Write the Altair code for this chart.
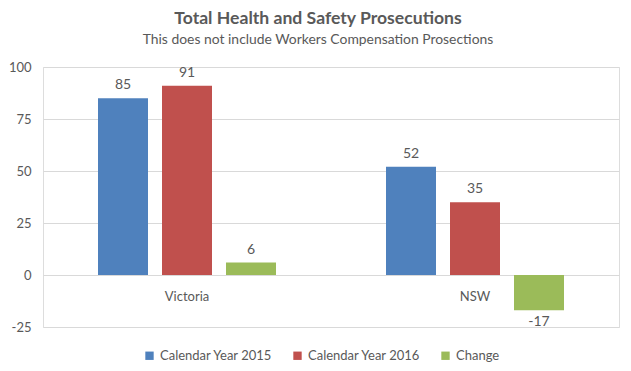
import altair as alt
import pandas as pd

categories = ["Victoria", "NSW"]
series = ["Calendar Year 2015", "Calendar Year 2016", "Change"]
y2015 = [85, 52]
y2016 = [91, 35]
change = [6, -17]
colors = ["#4F81BD", "#C0504D", "#9BBB59"]

rows = []
for i, c in enumerate(categories):
    for s, v in zip(series, [y2015[i], y2016[i], change[i]]):
        rows.append({"Region": c, "Series": s, "Value": v, "Label": str(v)})
df = pd.DataFrame(rows)
cat_df = pd.DataFrame({"Region": categories})

FONT = "Lato"
GREY = "#595959"

x_enc = alt.X("Region:N", sort=categories, axis=None,
              scale=alt.Scale(paddingInner=0, paddingOuter=0))
xoff = alt.XOffset("Series:N", sort=series,
                   scale=alt.Scale(paddingInner=0.21875, paddingOuter=0.859375))
y_scale = alt.Scale(domain=[-25, 100], nice=False, zero=False)

bars = alt.Chart(df).mark_bar().encode(
    x=x_enc,
    xOffset=xoff,
    y=alt.Y("Value:Q", scale=y_scale,
            axis=alt.Axis(values=[-25, 0, 25, 50, 75, 100], title=None,
                          domain=False, ticks=False, labelPadding=12,
                          labelExpr="toString(datum.value)",
                          labelFont=FONT, labelFontSize=13, labelColor=GREY,
                          gridColor="#D9D9D9", gridWidth=1)),
    y2=alt.datum(0),
    color=alt.Color("Series:N", sort=series,
                    scale=alt.Scale(domain=series, range=colors),
                    legend=alt.Legend(title=None, orient="none", direction="horizontal",
                                      legendX=100, legendY=282,
                                      symbolType="square", symbolSize=70,
                                      symbolStrokeWidth=0, labelOffset=4,
                                      labelFont=FONT, labelFontSize=13, labelColor=GREY,
                                      columnPadding=18)),
)

pos_labels = alt.Chart(df).transform_filter("datum.Value >= 0").mark_text(
    baseline="bottom", dy=-6, font=FONT, fontSize=14, color=GREY
).encode(x=x_enc, xOffset=xoff, y=alt.Y("Value:Q", scale=y_scale), text="Label:N")

neg_labels = alt.Chart(df).transform_filter("datum.Value < 0").mark_text(
    baseline="top", dy=5, font=FONT, fontSize=14, color=GREY
).encode(x=x_enc, xOffset=xoff, y=alt.Y("Value:Q", scale=y_scale), text="Label:N")

cat_labels = alt.Chart(cat_df).mark_text(
    baseline="middle", dy=22, font=FONT, fontSize=13, color=GREY
).encode(x=x_enc, y=alt.datum(0), text="Region:N")

chart = alt.layer(bars, pos_labels, neg_labels, cat_labels).properties(
    width=576, height=260,
    autosize="none",
    padding={"left": 35, "top": 59, "right": 4, "bottom": 36},
    title=alt.TitleParams(
        "Total Health and Safety Prosecutions",
        subtitle="This does not include Workers Compensation  Prosections",
        anchor="middle", font=FONT, fontSize=17.6, fontWeight="bold", color=GREY,
        subtitleFont=FONT, subtitleFontSize=13.9, subtitleColor=GREY,
        subtitlePadding=6, offset=14, dx=-13,
    ),
).configure_view(stroke=None).configure(background="white")

chart.save("out.html", embed_options={"renderer": "svg", "actions": False})
